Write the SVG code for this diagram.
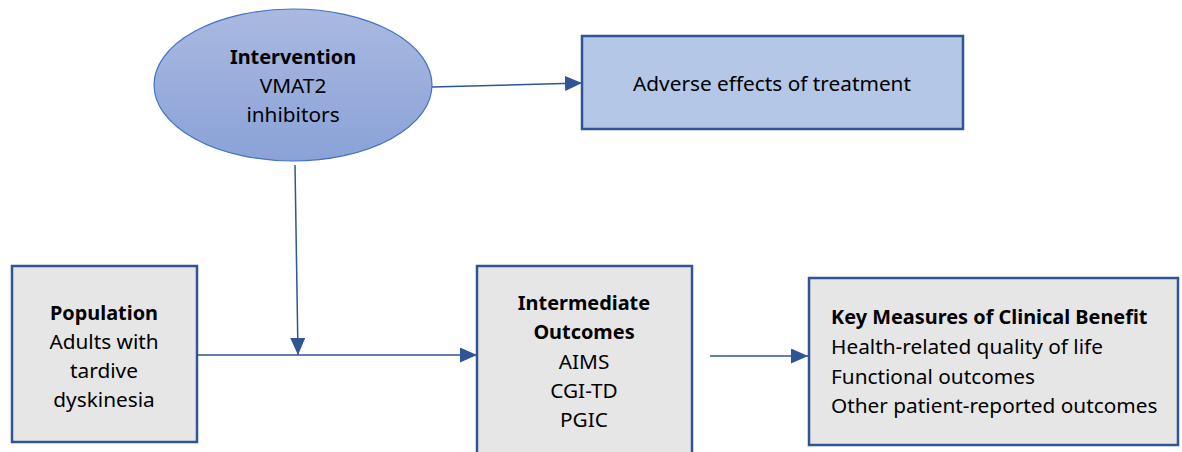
<svg xmlns="http://www.w3.org/2000/svg" width="1182" height="452" viewBox="0 0 1182 452">
<style>
text{font-family:"Noto Sans","Open Sans",sans-serif;font-size:20.8px;fill:#000}
.b{font-weight:bold;font-size:19.9px}
.c{text-anchor:middle}
.gray{fill:#e7e6e6;stroke:#2f5597;stroke-width:2.5}
.conn{stroke:#2f5597;stroke-width:1.5;fill:none}
</style>
<defs>
<linearGradient id="eg" x1="0" y1="0" x2="0" y2="1">
<stop offset="0" stop-color="#aab9e0"/>
<stop offset="1" stop-color="#8aa2d8"/>
</linearGradient>
<marker id="ah2" markerWidth="17" markerHeight="15" refX="17" refY="7.5" orient="auto" markerUnits="userSpaceOnUse" viewBox="0 0 17 15">
<path d="M0,0 L17,7.5 L0,15 Z" fill="#2f5597"/>
</marker>
</defs>
<g id="connectors">
<line class="conn" x1="432" y1="87" x2="582" y2="83" marker-end="url(#ah2)"/>
<line class="conn" x1="295" y1="165" x2="298" y2="355" marker-end="url(#ah2)"/>
<line class="conn" x1="197" y1="355" x2="477" y2="355" marker-end="url(#ah2)"/>
<line class="conn" x1="710" y1="356" x2="808" y2="356" marker-end="url(#ah2)"/>
</g>
<g id="intervention">
<ellipse cx="293" cy="85" rx="139" ry="76" fill="url(#eg)" stroke="#4472c4" stroke-width="1.2"/>
<text class="c b" x="293" y="64">Intervention</text>
<text class="c" x="293" y="93">VMAT2</text>
<text class="c" x="293" y="122">inhibitors</text>
</g>
<g id="adverse">
<rect x="582" y="36" width="381" height="93" fill="#b4c7e7" stroke="#2f5597" stroke-width="2.5"/>
<text class="c" x="772" y="91">Adverse effects of treatment</text>
</g>
<g id="population">
<rect class="gray" x="12" y="266" width="185" height="176"/>
<text class="c b" x="104" y="320">Population</text>
<text class="c" x="104" y="349">Adults with</text>
<text class="c" x="104" y="378">tardive</text>
<text class="c" x="104" y="407">dyskinesia</text>
</g>
<g id="intermediate">
<rect class="gray" x="477" y="266" width="215" height="190"/>
<text class="c b" x="584" y="310">Intermediate</text>
<text class="c b" x="584" y="339">Outcomes</text>
<text class="c" x="584" y="369">AIMS</text>
<text class="c" x="584" y="398">CGI-TD</text>
<text class="c" x="584" y="427">PGIC</text>
</g>
<g id="keymeasures">
<rect class="gray" x="809" y="278" width="369" height="167"/>
<text class="b" x="831" y="324">Key Measures of Clinical Benefit</text>
<text x="831" y="354">Health-related quality of life</text>
<text x="831" y="384">Functional outcomes</text>
<text x="831" y="413">Other patient-reported outcomes</text>
</g>
</svg>
